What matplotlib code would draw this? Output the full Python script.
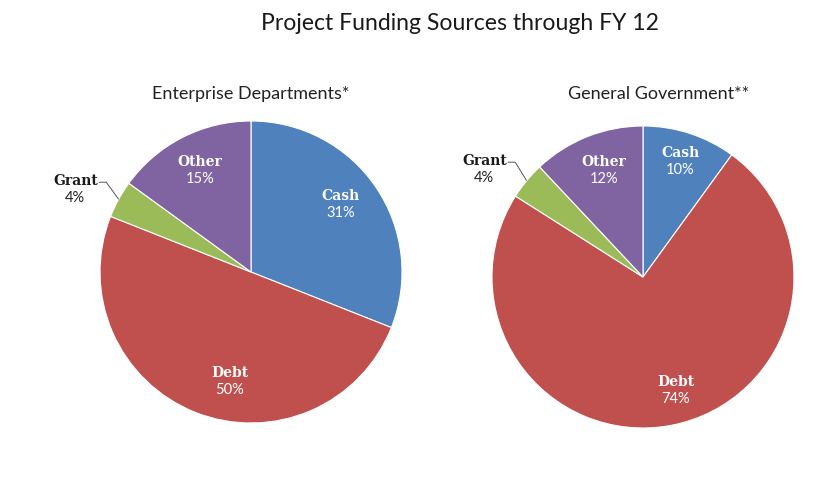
import numpy as np
import matplotlib
matplotlib.use("Agg")
import matplotlib.pyplot as plt

categories = ["Cash", "Debt", "Grant", "Other"]
enterprise = [31, 50, 4, 15]
general = [10, 74, 4, 12]
colors = ["#4F81BD", "#C0504D", "#9BBB59", "#8064A2"]

W, H = 840, 478
fig = plt.figure(figsize=(W / 100, H / 100), dpi=100)
fig.patch.set_facecolor("white")

fig.text(460 / W, 1 - 24 / H, "Project Funding Sources through FY 12",
         ha="center", va="center", fontsize=16.6, family="Lato", color="#1a1a1a")
fig.text(251 / W, 1 - 94 / H, "Enterprise Departments*",
         ha="center", va="center", fontsize=13, family="Lato", color="#222222")
fig.text(659 / W, 1 - 94 / H, "General Government**",
         ha="center", va="center", fontsize=13, family="Lato", color="#222222")


def draw_pie(cx, cy, r, values, label_px):
    ax = fig.add_axes([(cx - r) / W, 1 - (cy + r) / H, 2 * r / W, 2 * r / H])
    wedges, _ = ax.pie(values, colors=colors, startangle=90, counterclock=False,
                       radius=1, wedgeprops=dict(edgecolor="white", linewidth=0.8))
    ax.set_xlim(-1, 1)
    ax.set_ylim(-1, 1)
    ax.set_aspect("equal")
    ax.axis("off")
    for w, cat, v in zip(wedges, categories, values):
        lx, ly = label_px[cat]
        x, y = (lx - cx) / r, (cy - ly) / r
        if cat == "Grant":
            mid = np.deg2rad((w.theta1 + w.theta2) / 2)
            px, py = np.cos(mid), np.sin(mid)
            x0 = x + 0.15
            x1 = x0 + 0.05
            ax.plot([x0, x1, px], [y + 0.045, y + 0.045, py], color="#555555",
                    lw=0.7, clip_on=False, solid_capstyle="butt")
            ax.text(x, y + 0.055, cat, ha="center", va="center", fontsize=10,
                    family="DejaVu Serif", fontweight="bold", color="#1a1a1a",
                    clip_on=False)
            ax.text(x - 0.01, y - 0.06, f"{v}%", ha="center", va="center",
                    fontsize=10.5, family="Lato", color="#222222", clip_on=False)
        else:
            ax.text(x, y + 0.055, cat, ha="center", va="center", fontsize=10,
                    family="DejaVu Serif", fontweight="bold", color="white")
            ax.text(x, y - 0.06, f"{v}%", ha="center", va="center",
                    fontsize=10.5, family="Lato", color="white")
    return ax


# left pie: center (251,272), r 151
draw_pie(251, 272, 151, enterprise,
         {"Cash": (341, 204), "Debt": (230, 381), "Grant": (76, 189), "Other": (200, 170)})
# right pie: center (643,277), r 151
draw_pie(643, 277, 151, general,
         {"Cash": (680, 161), "Debt": (676, 390), "Grant": (485, 169), "Other": (604, 170)})

fig.savefig("out.png", dpi=100, facecolor="white")
